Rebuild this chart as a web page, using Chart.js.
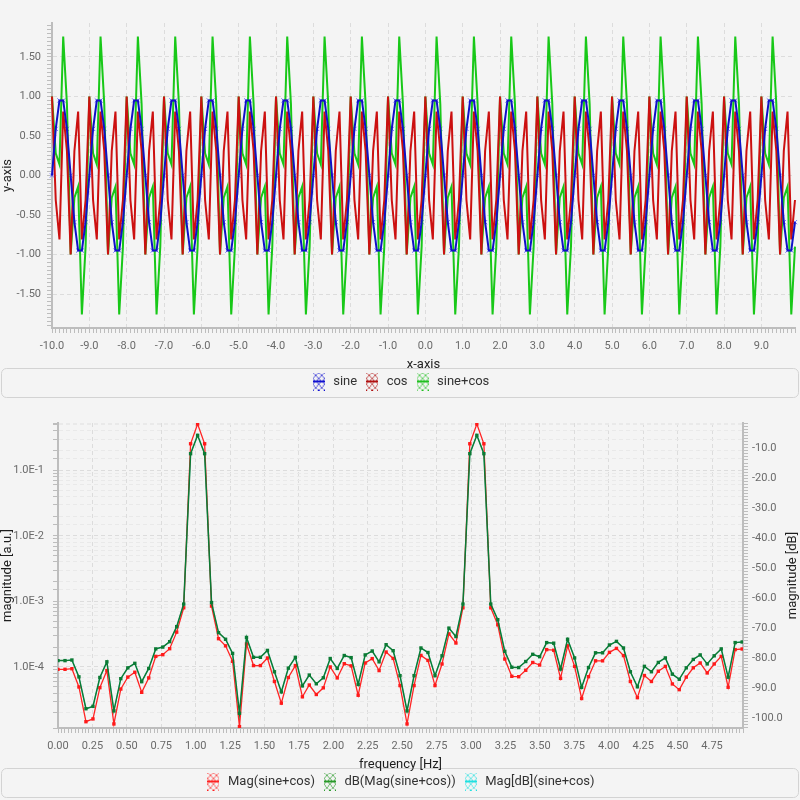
<!DOCTYPE html>
<html>
<head>
<meta charset="utf-8">
<script src="https://cdn.jsdelivr.net/npm/chart.js@4.4.1/dist/chart.umd.min.js"></script>
<style>
	body { margin: 0; background: #f4f4f4; }
	canvas { display: block; }
</style>
</head>
<body>
<canvas id="signal_chart" width="800" height="400"></canvas>
<canvas id="spectrum_chart" width="800" height="400"></canvas>
<script>
// time axis samples
var xTop = [
	-10.0,-9.9,-9.8,-9.7,-9.6,-9.5,-9.4,-9.3,-9.2,-9.1,
	-9.0,-8.9,-8.8,-8.7,-8.6,-8.5,-8.4,-8.3,-8.2,-8.1,
	-8.0,-7.9,-7.8,-7.7,-7.6,-7.5,-7.4,-7.3,-7.2,-7.1,
	-7.0,-6.9,-6.8,-6.7,-6.6,-6.5,-6.4,-6.3,-6.2,-6.1,
	-6.0,-5.9,-5.8,-5.7,-5.6,-5.5,-5.4,-5.3,-5.2,-5.1,
	-5.0,-4.9,-4.8,-4.7,-4.6,-4.5,-4.4,-4.3,-4.2,-4.1,
	-4.0,-3.9,-3.8,-3.7,-3.6,-3.5,-3.4,-3.3,-3.2,-3.1,
	-3.0,-2.9,-2.8,-2.7,-2.6,-2.5,-2.4,-2.3,-2.2,-2.1,
	-2.0,-1.9,-1.8,-1.7,-1.6,-1.5,-1.4,-1.3,-1.2,-1.1,
	-1.0,-0.9,-0.8,-0.7,-0.6,-0.5,-0.4,-0.3,-0.2,-0.1,
	0.0,0.1,0.2,0.3,0.4,0.5,0.6,0.7,0.8,0.9,
	1.0,1.1,1.2,1.3,1.4,1.5,1.6,1.7,1.8,1.9,
	2.0,2.1,2.2,2.3,2.4,2.5,2.6,2.7,2.8,2.9,
	3.0,3.1,3.2,3.3,3.4,3.5,3.6,3.7,3.8,3.9,
	4.0,4.1,4.2,4.3,4.4,4.5,4.6,4.7,4.8,4.9,
	5.0,5.1,5.2,5.3,5.4,5.5,5.6,5.7,5.8,5.9,
	6.0,6.1,6.2,6.3,6.4,6.5,6.6,6.7,6.8,6.9,
	7.0,7.1,7.2,7.3,7.4,7.5,7.6,7.7,7.8,7.9,
	8.0,8.1,8.2,8.3,8.4,8.5,8.6,8.7,8.8,8.9,
	9.0,9.1,9.2,9.3,9.4,9.5,9.6,9.7,9.8,9.9
];

var sineY = [
	0,.59,.95,.95,.59,0,-.59,-.95,-.95,-.59, 0,.59,.95,.95,.59,0,-.59,-.95,-.95,-.59,
	0,.59,.95,.95,.59,0,-.59,-.95,-.95,-.59, 0,.59,.95,.95,.59,0,-.59,-.95,-.95,-.59,
	0,.59,.95,.95,.59,0,-.59,-.95,-.95,-.59, 0,.59,.95,.95,.59,0,-.59,-.95,-.95,-.59,
	0,.59,.95,.95,.59,0,-.59,-.95,-.95,-.59, 0,.59,.95,.95,.59,0,-.59,-.95,-.95,-.59,
	0,.59,.95,.95,.59,0,-.59,-.95,-.95,-.59, 0,.59,.95,.95,.59,0,-.59,-.95,-.95,-.59,
	0,.59,.95,.95,.59,0,-.59,-.95,-.95,-.59, 0,.59,.95,.95,.59,0,-.59,-.95,-.95,-.59,
	0,.59,.95,.95,.59,0,-.59,-.95,-.95,-.59, 0,.59,.95,.95,.59,0,-.59,-.95,-.95,-.59,
	0,.59,.95,.95,.59,0,-.59,-.95,-.95,-.59, 0,.59,.95,.95,.59,0,-.59,-.95,-.95,-.59,
	0,.59,.95,.95,.59,0,-.59,-.95,-.95,-.59, 0,.59,.95,.95,.59,0,-.59,-.95,-.95,-.59,
	0,.59,.95,.95,.59,0,-.59,-.95,-.95,-.59, 0,.59,.95,.95,.59,0,-.59,-.95,-.95,-.59
];

var cosY = [
	1,-.31,-.81,.81,.31,-1,.31,.81,-.81,-.31, 1,-.31,-.81,.81,.31,-1,.31,.81,-.81,-.31,
	1,-.31,-.81,.81,.31,-1,.31,.81,-.81,-.31, 1,-.31,-.81,.81,.31,-1,.31,.81,-.81,-.31,
	1,-.31,-.81,.81,.31,-1,.31,.81,-.81,-.31, 1,-.31,-.81,.81,.31,-1,.31,.81,-.81,-.31,
	1,-.31,-.81,.81,.31,-1,.31,.81,-.81,-.31, 1,-.31,-.81,.81,.31,-1,.31,.81,-.81,-.31,
	1,-.31,-.81,.81,.31,-1,.31,.81,-.81,-.31, 1,-.31,-.81,.81,.31,-1,.31,.81,-.81,-.31,
	1,-.31,-.81,.81,.31,-1,.31,.81,-.81,-.31, 1,-.31,-.81,.81,.31,-1,.31,.81,-.81,-.31,
	1,-.31,-.81,.81,.31,-1,.31,.81,-.81,-.31, 1,-.31,-.81,.81,.31,-1,.31,.81,-.81,-.31,
	1,-.31,-.81,.81,.31,-1,.31,.81,-.81,-.31, 1,-.31,-.81,.81,.31,-1,.31,.81,-.81,-.31,
	1,-.31,-.81,.81,.31,-1,.31,.81,-.81,-.31, 1,-.31,-.81,.81,.31,-1,.31,.81,-.81,-.31,
	1,-.31,-.81,.81,.31,-1,.31,.81,-.81,-.31, 1,-.31,-.81,.81,.31,-1,.31,.81,-.81,-.31
];

var sumY = [
	1,.28,.14,1.76,.9,-1,-.28,-.14,-1.76,-.9, 1,.28,.14,1.76,.9,-1,-.28,-.14,-1.76,-.9,
	1,.28,.14,1.76,.9,-1,-.28,-.14,-1.76,-.9, 1,.28,.14,1.76,.9,-1,-.28,-.14,-1.76,-.9,
	1,.28,.14,1.76,.9,-1,-.28,-.14,-1.76,-.9, 1,.28,.14,1.76,.9,-1,-.28,-.14,-1.76,-.9,
	1,.28,.14,1.76,.9,-1,-.28,-.14,-1.76,-.9, 1,.28,.14,1.76,.9,-1,-.28,-.14,-1.76,-.9,
	1,.28,.14,1.76,.9,-1,-.28,-.14,-1.76,-.9, 1,.28,.14,1.76,.9,-1,-.28,-.14,-1.76,-.9,
	1,.28,.14,1.76,.9,-1,-.28,-.14,-1.76,-.9, 1,.28,.14,1.76,.9,-1,-.28,-.14,-1.76,-.9,
	1,.28,.14,1.76,.9,-1,-.28,-.14,-1.76,-.9, 1,.28,.14,1.76,.9,-1,-.28,-.14,-1.76,-.9,
	1,.28,.14,1.76,.9,-1,-.28,-.14,-1.76,-.9, 1,.28,.14,1.76,.9,-1,-.28,-.14,-1.76,-.9,
	1,.28,.14,1.76,.9,-1,-.28,-.14,-1.76,-.9, 1,.28,.14,1.76,.9,-1,-.28,-.14,-1.76,-.9,
	1,.28,.14,1.76,.9,-1,-.28,-.14,-1.76,-.9, 1,.28,.14,1.76,.9,-1,-.28,-.14,-1.76,-.9
];

// spectrum
var freqHz = [
	0.000,0.051,0.101,0.152,0.203,0.254,0.304,0.355,0.406,0.456,
	0.507,0.558,0.608,0.659,0.710,0.761,0.811,0.862,0.913,0.963,
	1.014,1.065,1.115,1.166,1.217,1.268,1.318,1.369,1.420,1.470,
	1.521,1.572,1.622,1.673,1.724,1.775,1.825,1.876,1.927,1.977,
	2.028,2.079,2.129,2.180,2.231,2.282,2.332,2.383,2.434,2.484,
	2.535,2.586,2.636,2.687,2.738,2.789,2.839,2.890,2.941,2.991,
	3.042,3.093,3.143,3.194,3.245,3.296,3.346,3.397,3.448,3.498,
	3.549,3.600,3.650,3.701,3.752,3.803,3.853,3.904,3.955,4.005,
	4.056,4.107,4.157,4.208,4.259,4.310,4.360,4.411,4.462,4.512,
	4.563,4.614,4.664,4.715,4.766,4.817,4.867,4.918,4.969
];

var magAU = [
	9.2e-5,9.2e-5,9.4e-5,4.95e-5,1.46e-5,1.61e-5,4.83e-5,8.8e-5,1.35e-5,4.6e-5,
	7.0e-5,8.3e-5,4.1e-5,6.8e-5,1.45e-4,1.54e-4,1.9e-4,3.4e-4,8.0e-4,0.255,
	0.51,0.255,8.5e-4,2.7e-4,2.1e-4,1.22e-4,1.23e-5,2.24e-4,1.05e-4,1.05e-4,
	1.37e-4,6.0e-5,2.8e-5,6.9e-5,1.05e-4,3.5e-5,5.3e-5,3.8e-5,4.8e-5,1.0e-4,
	6.8e-5,1.12e-4,1.04e-4,3.7e-5,1.15e-4,1.34e-4,8.8e-5,1.69e-4,1.35e-4,5.2e-5,
	1.35e-5,5.2e-5,1.5e-4,1.26e-4,5.2e-5,1.11e-4,3.2e-4,2.32e-4,8.0e-4,0.255,
	0.51,0.255,8.0e-4,4.4e-4,1.32e-4,7.2e-5,7.1e-5,8.9e-5,1.17e-4,1.07e-4,
	1.84e-4,1.8e-4,6.7e-5,2.1e-4,1.02e-4,3.3e-5,7.1e-5,1.24e-4,1.24e-4,1.67e-4,
	1.92e-4,1.49e-4,6.0e-5,3.4e-5,7.4e-5,6.0e-5,8.6e-5,1.02e-4,5.5e-5,4.5e-5,
	7.0e-5,9.7e-5,1.15e-4,8.1e-5,1.11e-4,1.45e-4,4.9e-5,1.84e-4,1.88e-4
];

var magDB = [
	-80.7,-80.7,-80.5,-86.1,-96.7,-95.9,-86.3,-81.1,-97.4,-86.7,
	-83.1,-81.6,-87.7,-83.3,-76.8,-76.2,-74.4,-69.4,-61.9,-11.9,
	-5.8,-11.9,-61.4,-71.4,-73.6,-78.3,-98.2,-73.0,-79.6,-79.6,
	-77.3,-84.4,-91.1,-83.2,-79.6,-89.1,-85.5,-88.4,-86.4,-80.0,
	-83.3,-79.0,-79.7,-88.6,-78.8,-77.5,-81.1,-75.4,-77.4,-85.7,
	-97.4,-85.7,-76.5,-78.0,-85.7,-79.1,-69.9,-72.7,-61.9,-11.9,
	-5.8,-11.9,-61.9,-67.1,-77.6,-82.9,-83.0,-81.0,-78.6,-79.4,
	-74.7,-74.9,-83.5,-73.6,-79.8,-89.6,-83.0,-78.1,-78.1,-75.5,
	-74.3,-76.5,-84.4,-89.4,-82.6,-84.4,-81.3,-79.8,-85.2,-86.9,
	-83.1,-80.3,-78.8,-81.8,-79.1,-76.8,-86.2,-74.7,-74.5
];

var signalNames = ["sine", "cos", "sine+cos"];
var spectrumNames = ["Mag(sine+cos)", "dB(Mag(sine+cos))", "Mag[dB](sine+cos)"];
var yTopMajor = [-1.5, -1.0, -0.5, 0, 0.5, 1.0, 1.5];
var logMajor = [1e-4, 1e-3, 1e-2, 1e-1];
var dbMajor = [-100, -90, -80, -70, -60, -50, -40, -30, -20, -10];


Chart.defaults.font.family = "Roboto";
Chart.defaults.animation = false;

var GRID = "#dcdcdc";
var AXIS = "#bdbdbd";
var TICK_TXT = "#6a6a6a";


function hatchIcon(color) {
	var c = document.createElement("canvas");
	c.width = 12;
	c.height = 18;
	var g = c.getContext("2d");
	g.strokeStyle = color;
	g.lineWidth = 1;
	g.setLineDash([2, 1]);
	g.beginPath();
	for (var o = -18; o <= 12; o += 6) {
		g.moveTo(o, 0); g.lineTo(o + 18, 18);
		g.moveTo(o + 18, 0); g.lineTo(o, 18);
	}
	g.stroke();
	g.setLineDash([]);
	g.lineWidth = 2;
	g.beginPath();
	g.moveTo(0, 9); g.lineTo(12, 9);
	g.stroke();
	return c;
}

function isIn(list, v, tol) {
	for (var i in list) {
		if (Math.abs(list[i] - v) < tol) return true;
	}
	return false;
}

function denseTicks(from, to, step) {
	return function (scale) {
		var t = [];
		for (var v = from; v <= to + 1e-9; v += step) {
			t.push({ value: Math.round(v * 1000) / 1000 });
		}
		scale.ticks = t;
	};
}

function fixWidth(w) {
	return function (scale) {
		scale.width = w;
		scale.paddingTop = 0;
		scale.paddingBottom = 0;
	};
}

function fixHeight(h) {
	return function (scale) {
		scale.height = h;
		scale.paddingLeft = 0;
		scale.paddingRight = 0;
	};
}

var legendFrame = {
	id: "legendFrame",
	beforeDraw: function (chart) {
		var l = chart.legend;
		var ctx = chart.ctx;
		ctx.save();
		ctx.strokeStyle = "#d3d3d3";
		ctx.lineWidth = 1;
		ctx.beginPath();
		ctx.roundRect(1.5, l.top + 0.5, chart.width - 3, l.bottom - l.top - 1, 5);
		ctx.stroke();
		ctx.restore();
	}
};

var rightTitle = {
	id: "rightTitle",
	afterDraw: function (chart, args, opts) {
		if (!opts.text) return;
		var a = chart.chartArea;
		var ctx = chart.ctx;
		ctx.save();
		ctx.translate(chart.width - 7, (a.top + a.bottom) / 2);
		ctx.rotate(-Math.PI / 2);
		ctx.font = "13px Roboto";
		ctx.fillStyle = "#1e1e1e";
		ctx.textAlign = "center";
		ctx.textBaseline = "middle";
		ctx.fillText(opts.text, 0, 0);
		ctx.restore();
	}
};

function legendOptions(icons, count) {
	return {
		position: "bottom",
		labels: {
			usePointStyle: true,
			pointStyleWidth: 16,
			padding: 7,
			color: "#333",
			font: { size: 13 },
			filter: function (item) { return item.datasetIndex < count; },
			sort: function (a, b) { return a.datasetIndex - b.datasetIndex; },
			generateLabels: function (chart) {
				var items = Chart.defaults.plugins.legend.labels.generateLabels(chart);
				items.forEach(function (it) { it.pointStyle = icons[it.datasetIndex]; });
				return items;
			}
		}
	};
}

function axisTitle(text) {
	return {
		display: true,
		text: text,
		color: "#1e1e1e",
		font: { size: 13, lineHeight: 1 },
		padding: { top: 1, bottom: -3 }
	};
}


function drawSignalChart() {
	var icons = [hatchIcon("#1010d0"), hatchIcon("#b01010"), hatchIcon("#20c020")];

	var ctx = document.getElementById("signal_chart").getContext("2d");
	new Chart(ctx, {
		type: "line",
		data: {
			labels: xTop,
			datasets: [
				{ label: signalNames[0], data: sineY, borderColor: "#1010c8", borderWidth: 2, pointRadius: 0, order: 0 },
				{ label: signalNames[1], data: cosY, borderColor: "#cc1010", borderWidth: 2, pointRadius: 0, order: 1 },
				{ label: signalNames[2], data: sumY, borderColor: "#18c818", borderWidth: 2, pointRadius: 0, order: 2 },
				{ label: "sine markers", data: sineY, showLine: false, pointStyle: "crossRot", pointRadius: 3,
					borderColor: "#6c6cff", borderWidth: 1, order: 3 }
			]
		},
		options: {
			responsive: false,
			events: [],
			layout: { padding: { top: 23, left: 0, right: 0, bottom: 2 } },
			elements: { line: { tension: 0 } },
			plugins: {
				legend: legendOptions(icons, 3),
				tooltip: { enabled: false }
			},
			scales: {
				x: {
					type: "category",
					afterFit: fixHeight(40),
					title: axisTitle("x-axis"),
					border: { color: AXIS, width: 2, dash: [4, 3] },
					grid: {
						color: function (c) { return c.index % 10 === 0 ? GRID : "rgba(0,0,0,0)"; },
						tickColor: AXIS,
						tickLength: 5
					},
					ticks: {
						autoSkip: false,
						maxRotation: 0,
						minRotation: 0,
						padding: 7,
						color: TICK_TXT,
						font: { size: 11 },
						callback: function (val, index) {
							return index % 10 === 0 ? xTop[index].toFixed(1) : "";
						}
					}
				},
				y: {
					min: -1.93,
					max: 1.93,
					afterBuildTicks: denseTicks(-1.9, 1.9, 0.05),
					afterFit: fixWidth(52),
					title: axisTitle("y-axis"),
					border: { color: AXIS, width: 2, dash: [4, 3] },
					grid: {
						color: function (c) { return isIn(yTopMajor, c.tick.value, 1e-6) ? GRID : "rgba(0,0,0,0)"; },
						tickColor: AXIS,
						tickLength: 5
					},
					ticks: {
						autoSkip: false,
						padding: 6,
						color: TICK_TXT,
						font: { size: 11 },
						callback: function (v) {
							return isIn(yTopMajor, v, 1e-6) ? v.toFixed(2) : "";
						}
					}
				}
			}
		},
		plugins: [legendFrame]
	});
}


function drawSpectrumChart() {
	var icons = [hatchIcon("#ff2020"), hatchIcon("#2a9a2a"), hatchIcon("#20e0e0")];

	var magPoints = freqHz.map(function (f, i) { return { x: f, y: magAU[i] }; });
	var dbPoints = freqHz.map(function (f, i) { return { x: f, y: magDB[i] }; });

	var ctx = document.getElementById("spectrum_chart").getContext("2d");
	new Chart(ctx, {
		type: "line",
		data: {
			datasets: [
				{ label: spectrumNames[0], data: magPoints, yAxisID: "yMag", borderColor: "#ff2424", borderWidth: 1.3,
					pointStyle: "rect", pointRadius: 2.4, pointBorderWidth: 0, pointBackgroundColor: "#ff1a1a", order: 1 },
				{ label: spectrumNames[1], data: dbPoints, yAxisID: "yDb", borderColor: "#0b7a34", borderWidth: 1.5,
					pointStyle: "rect", pointRadius: 2.4, pointBorderWidth: 0, pointBackgroundColor: "#0b7a34", order: 0 },
				{ label: spectrumNames[2], data: dbPoints, yAxisID: "yDb", borderColor: "#40f0f0", borderWidth: 1,
					pointRadius: 0, order: 2 }
			]
		},
		options: {
			responsive: false,
			events: [],
			layout: { padding: { top: 23, left: 0, right: 0, bottom: 2 } },
			elements: { line: { tension: 0 } },
			plugins: {
				legend: legendOptions(icons, 3),
				tooltip: { enabled: false },
				rightTitle: { text: "magnitude [dB]" }
			},
			scales: {
				x: {
					type: "linear",
					min: 0,
					max: 4.975,
					afterBuildTicks: denseTicks(0, 4.975, 0.025),
					afterFit: fixHeight(40),
					title: axisTitle("frequency [Hz]"),
					border: { color: AXIS, width: 2, dash: [4, 3] },
					grid: {
						color: function (c) {
							var q = c.tick.value / 0.25;
							return Math.abs(q - Math.round(q)) < 1e-6 ? GRID : "rgba(0,0,0,0)";
						},
						tickColor: AXIS,
						tickLength: 5
					},
					ticks: {
						autoSkip: false,
						maxRotation: 0,
						minRotation: 0,
						padding: 7,
						color: TICK_TXT,
						font: { size: 11 },
						callback: function (v) {
							var q = v / 0.25;
							return Math.abs(q - Math.round(q)) < 1e-6 ? v.toFixed(2) : "";
						}
					}
				},
				yMag: {
					type: "logarithmic",
					position: "left",
					min: 1.17e-5,
					max: 0.529,
					afterFit: fixWidth(58),
					title: axisTitle("magnitude [a.u.]"),
					border: { color: AXIS, width: 2, dash: [4, 3] },
					grid: {
						color: function (c) {
							var e = Math.log10(c.tick.value);
							return Math.abs(e - Math.round(e)) < 1e-6 ? GRID : "#e9e9e9";
						},
						tickColor: AXIS,
						tickLength: 5
					},
					ticks: {
						autoSkip: false,
						padding: 9,
						color: TICK_TXT,
						font: { size: 11 },
						callback: function (v) {
							if (!isIn(logMajor, v, v * 1e-6)) return "";
							return "1.0E" + Math.round(Math.log10(v));
						}
					}
				},
				yDb: {
					type: "linear",
					position: "right",
					min: -103.1,
					max: -1.7,
					afterBuildTicks: denseTicks(-103, -2, 1),
					afterFit: fixWidth(57),
					border: { color: AXIS, width: 2 },
					grid: {
						drawOnChartArea: false,
						tickColor: AXIS,
						tickLength: 5
					},
					ticks: {
						autoSkip: false,
						padding: 4,
						color: TICK_TXT,
						font: { size: 11 },
						callback: function (v) {
							return isIn(dbMajor, v, 1e-6) ? v.toFixed(1) : "";
						}
					}
				}
			}
		},
		plugins: [legendFrame, rightTitle]
	});
}


drawSignalChart();
drawSpectrumChart();
</script>
</body>
</html>
